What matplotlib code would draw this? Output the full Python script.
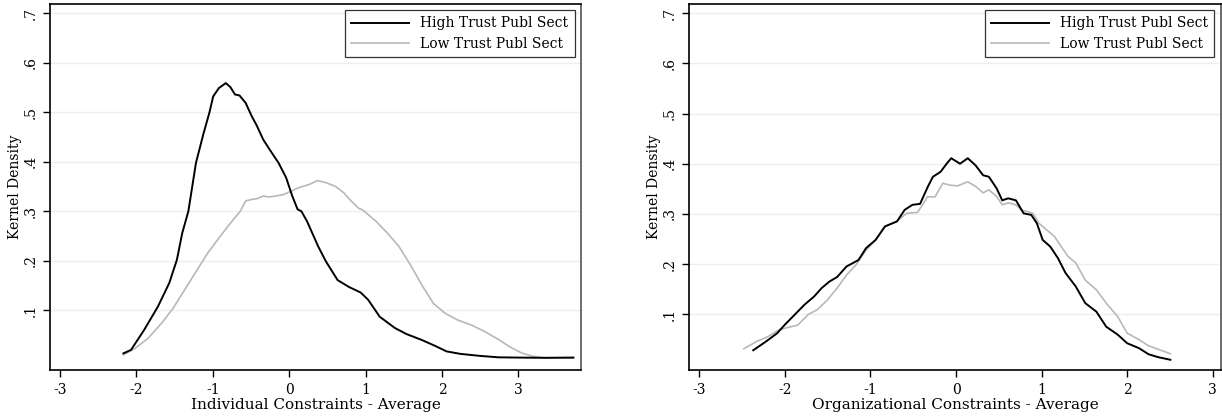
import matplotlib
matplotlib.use("Agg")
import matplotlib.pyplot as plt
import numpy as np

# ---- data: left panel (Individual Constraints) ----
ind_high_x = [-2.17, -2.07, -1.90, -1.72, -1.57, -1.47, -1.40, -1.32, -1.22, -1.12, -1.045, -0.995,
              -0.92, -0.83, -0.77, -0.71, -0.65, -0.57, -0.49, -0.43, -0.34, -0.24, -0.14, -0.04,
              0.04, 0.11, 0.16, 0.233, 0.38, 0.48, 0.634, 0.784, 0.935, 1.035, 1.185, 1.386,
              1.536, 1.737, 1.912, 2.06, 2.24, 2.49, 2.74, 2.99, 3.34, 3.72]
ind_high_y = [0.013, 0.020, 0.060, 0.107, 0.155, 0.202, 0.256, 0.300, 0.398, 0.458, 0.499, 0.532,
              0.549, 0.559, 0.551, 0.536, 0.534, 0.519, 0.492, 0.475, 0.445, 0.421, 0.398, 0.368,
              0.331, 0.304, 0.300, 0.280, 0.229, 0.199, 0.161, 0.147, 0.136, 0.121, 0.087, 0.064,
              0.052, 0.040, 0.028, 0.017, 0.012, 0.008, 0.005, 0.0045, 0.004, 0.0045]
ind_low_x = [-2.17, -2.02, -1.85, -1.67, -1.52, -1.37, -1.22, -1.07, -0.92, -0.77, -0.64, -0.57,
             -0.49, -0.42, -0.34, -0.27, -0.17, -0.07, 0.03, 0.13, 0.26, 0.37, 0.48, 0.61, 0.71,
             0.81, 0.91, 0.96, 1.135, 1.286, 1.436, 1.586, 1.737, 1.887, 2.04, 2.21, 2.39, 2.56,
             2.74, 2.89, 3.04, 3.19, 3.34, 3.72]
ind_low_y = [0.010, 0.023, 0.043, 0.074, 0.104, 0.141, 0.178, 0.215, 0.246, 0.276, 0.300, 0.321,
             0.324, 0.3255, 0.331, 0.329, 0.331, 0.334, 0.341, 0.348, 0.354, 0.362, 0.358, 0.350,
             0.338, 0.321, 0.306, 0.303, 0.280, 0.256, 0.229, 0.192, 0.151, 0.114, 0.094, 0.080,
             0.070, 0.057, 0.041, 0.026, 0.014, 0.007, 0.004, 0.004]

# ---- data: right panel (Organizational Constraints) ----
org_high_x = [-2.37, -2.22, -2.09, -2.00, -1.885, -1.77, -1.66, -1.57, -1.48, -1.39, -1.28, -1.14,
              -1.05, -0.94, -0.83, -0.69, -0.60, -0.51, -0.42, -0.33, -0.27, -0.18, -0.11, -0.056,
              0.047, 0.137, 0.227, 0.317, 0.384, 0.474, 0.54, 0.61, 0.70, 0.79, 0.88, 0.945,
              1.013, 1.10, 1.19, 1.28, 1.40, 1.51, 1.64, 1.755, 1.89, 2.00, 2.14, 2.25, 2.36, 2.505]
org_high_y = [0.028, 0.0455, 0.062, 0.079, 0.099, 0.119, 0.135, 0.152, 0.165, 0.174, 0.195, 0.208,
              0.232, 0.248, 0.275, 0.285, 0.308, 0.318, 0.320, 0.354, 0.374, 0.384, 0.400, 0.411,
              0.400, 0.411, 0.397, 0.377, 0.374, 0.351, 0.327, 0.331, 0.327, 0.301, 0.298, 0.281,
              0.248, 0.235, 0.212, 0.182, 0.155, 0.122, 0.105, 0.075, 0.059, 0.042, 0.032, 0.020,
              0.0143, 0.009]
org_low_x = [-2.48, -2.33, -2.20, -2.065, -1.95, -1.85, -1.73, -1.62, -1.50, -1.39, -1.28, -1.17,
             -1.05, -0.94, -0.83, -0.69, -0.58, -0.45, -0.38, -0.335, -0.245, -0.155, -0.065, 0.02,
             0.137, 0.227, 0.317, 0.384, 0.474, 0.54, 0.61, 0.70, 0.77, 0.83, 0.90, 0.97, 1.06,
             1.15, 1.24, 1.31, 1.40, 1.51, 1.64, 1.755, 1.89, 2.00, 2.14, 2.25, 2.36, 2.505]
org_low_y = [0.031, 0.0455, 0.055, 0.069, 0.074, 0.078, 0.099, 0.109, 0.129, 0.152, 0.178, 0.198,
             0.228, 0.248, 0.275, 0.285, 0.301, 0.303, 0.321, 0.334, 0.334, 0.361, 0.357, 0.356,
             0.364, 0.355, 0.342, 0.348, 0.335, 0.318, 0.322, 0.318, 0.307, 0.305, 0.301, 0.281,
             0.268, 0.255, 0.232, 0.215, 0.202, 0.168, 0.1485, 0.122, 0.095, 0.062, 0.049, 0.037,
             0.030, 0.021]

x_ticks = [-3, -2, -1, 0, 1, 2, 3]
y_ticks = [0.1, 0.2, 0.3, 0.4, 0.5, 0.6, 0.7]
y_ticklabels = [".1", ".2", ".3", ".4", ".5", ".6", ".7"]
series_labels = ["High Trust Publ Sect", "Low Trust Publ Sect"]
xlabels = ["Individual Constraints - Average", "Organizational Constraints - Average"]
ylabel = "Kernel Density"

plt.rcParams["font.family"] = ["DejaVu Serif"]

W, H = 1222, 418
fig = plt.figure(figsize=(W / 100, H / 100), dpi=100)

panels = [
    dict(rect=(50, 4, 581, 369.5), xlim=(-3.131, 3.82), ylim=(-0.0196, 0.7188),
         hx=ind_high_x, hy=ind_high_y, lx=ind_low_x, ly=ind_low_y, xl=xlabels[0]),
    dict(rect=(689.3, 4, 1220.7, 369.5), xlim=(-3.117, 3.093), ylim=(-0.0104, 0.7186),
         hx=org_high_x, hy=org_high_y, lx=org_low_x, ly=org_low_y, xl=xlabels[1]),
]

grid_col = "#e8f0f2"
for p in panels:
    x0, top, x1, bot = p["rect"]
    ax = fig.add_axes([x0 / W, 1 - bot / H, (x1 - x0) / W, (bot - top) / H])
    ax.set_xlim(*p["xlim"])
    ax.set_ylim(*p["ylim"])
    for yv in y_ticks:
        ax.axhline(yv, color=grid_col, lw=1.0, zorder=0)
    ax.plot(p["hx"], p["hy"], color="black", lw=1.4, label=series_labels[0], zorder=3)
    ax.plot(p["lx"], p["ly"], color="#b8b8b8", lw=1.2, label=series_labels[1], zorder=2)
    ax.set_xticks(x_ticks)
    ax.set_xticklabels([str(v) for v in x_ticks])
    ax.set_yticks(y_ticks)
    ax.set_yticklabels(y_ticklabels, rotation=90, va="center")
    ax.tick_params(axis="both", direction="out", length=5, width=1, labelsize=10, color="black")
    ax.tick_params(axis="x", pad=5)
    ax.tick_params(axis="y", pad=4)
    for s in ax.spines.values():
        s.set_linewidth(1.2)
        s.set_color("black")
    ax.spines["right"].set_color("#555555")
    ax.set_xlabel(p["xl"], fontsize=11, labelpad=0.5)
    ax.set_ylabel(ylabel, fontsize=10, labelpad=1)
    leg = ax.legend(loc="upper right", fontsize=10, handlelength=4.2, handletextpad=0.8,
                    borderaxespad=0.45, frameon=True, fancybox=False, labelspacing=0.45,
                    borderpad=0.45)
    leg.get_frame().set_edgecolor("black")
    leg.get_frame().set_linewidth(0.9)

fig.savefig("out.png", dpi=100)
